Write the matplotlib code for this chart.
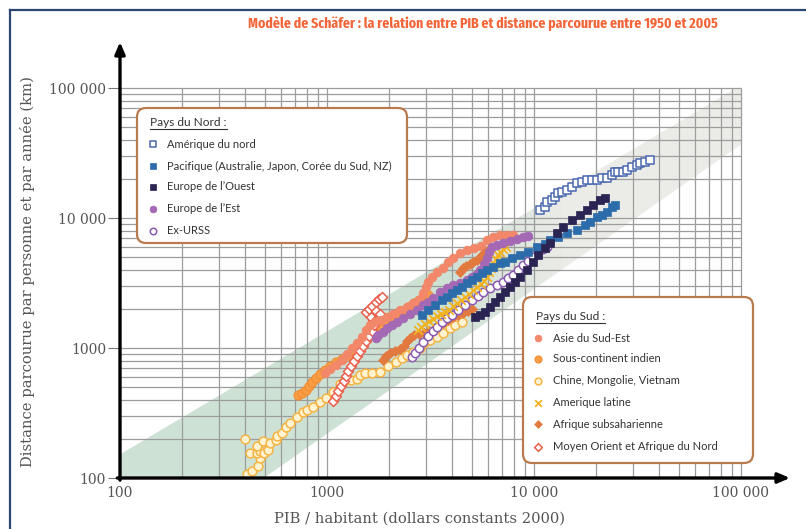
import os
import numpy as np
import matplotlib
matplotlib.use('Agg')
import matplotlib.pyplot as plt
from matplotlib import font_manager as fm
from matplotlib.patches import FancyBboxPatch, Polygon

# ============ données (PIB/hab, km/pers/an) ============
amn_x = [10690, 11300, 11560, 12220, 12630, 13050, 13650, 14430, 15270, 16130,
         17060, 18030, 19060, 20150, 21310, 22530, 23820, 24600, 25470, 26920,
         28120, 29730, 31470, 32520, 34360, 36310]
amn_y = [11530, 12160, 13280, 13750, 14510, 15570, 15850, 16410, 17300, 18580,
         18910, 19600, 19600, 19600, 20310, 20310, 21420, 22600, 22600, 22600,
         23400, 24670, 25560, 26490, 26980, 27930]

pac_x = [2877, 3076, 3327, 3597, 3802, 4020, 4250, 4490, 4747, 5016, 5303, 5606,
         5926, 6340, 6853, 7247, 7832, 8560, 9354, 10330, 11290, 11940, 13050,
         14430, 16130, 17630, 18660, 20150, 21310, 22530, 23820, 24600]
pac_y = [1794, 1960, 2142, 2339, 2467, 2648, 2793, 2946, 3162, 3333, 3516, 3776,
         3981, 4200, 4510, 4591, 4924, 5193, 5476, 5980, 6310, 6770, 7140, 7670,
         8090, 8840, 9320, 10180, 10550, 11130, 12160, 12600]

eou_x = [5188, 5486, 5800, 6127, 6480, 6853, 7247, 7660, 8090, 8560, 9250, 9890,
         10450, 11290, 11940, 12910, 13800, 15270, 16680, 18030, 19280, 20840, 22030]
eou_y = [1730, 1794, 1893, 2067, 2259, 2467, 2697, 2946, 3220, 3516, 3981, 4591,
         5193, 5870, 6420, 7670, 8530, 9660, 10550, 11530, 12600, 13750, 14260]

ees_x = [1726, 1763, 1865, 1950, 2062, 2179, 2329, 2518, 2722, 2911, 3076, 3252,
         3515, 3802, 4062, 4392, 4747, 5016, 5303, 5486, 5733, 5926, 6064, 6271,
         6625, 7087, 7660, 8280, 8850, 9354]
ees_y = [1194, 1259, 1327, 1425, 1503, 1585, 1702, 1828, 1960, 2142, 2259, 2427,
         2697, 2896, 3054, 3162, 3333, 3516, 3707, 3981, 4427, 4924, 5476, 5980,
         6200, 6420, 6658, 6890, 7140, 7278]

urss_x = [2576, 2663, 2783, 2911, 3076, 3252, 3398, 3597, 3802, 4020, 4296, 4645,
          5016, 5360, 5672, 6127, 6625, 7087, 7487, 7918, 8370, 8850, 9354, 9890,
          10450, 11050, 11560]
urss_y = [853, 916, 1000, 1112, 1236, 1350, 1452, 1585, 1702, 1794, 1960, 2142,
          2339, 2512, 2697, 2896, 3054, 3220, 3453, 3644, 3981, 4350, 4667, 5012,
          5476, 5775, 5980]

ase_x = [977, 1033, 1104, 1181, 1249, 1321, 1396, 1476, 1543, 1614, 1706, 1824,
         1950, 2085, 2253, 2434, 2602, 2783, 2911, 3006, 3076, 3215, 3398, 3632,
         3843, 4062, 4392, 4747, 5130, 5546, 5926, 6340, 6853, 7410, 7918]
ase_y = [642, 689, 740, 808, 899, 1000, 1092, 1215, 1375, 1503, 1585, 1642, 1730,
         1828, 1960, 2067, 2218, 2339, 2648, 2946, 3220, 3516, 3844, 4125, 4591,
         4924, 5383, 5675, 5870, 6090, 6770, 7140, 7400, 7400, 7400]

ind_x = [725, 757, 792, 819, 847, 885, 925, 977, 1033, 1104, 1181, 1262, 1349,
         1428, 1510, 1596, 1687, 1783, 1884, 2014, 2153, 2302, 2461, 2631, 2783,
         2942, 3076]
ind_y = [435, 451, 475, 510, 547, 587, 631, 677, 727, 780, 823, 884, 966, 1055,
         1153, 1259, 1375, 1503, 1614, 1730, 1828, 1928, 2067, 2218, 2339, 2467, 2557]

chn_x = [411, 435, 465, 475, 425, 459, 475, 496, 519, 459, 402, 491, 531, 568,
         573, 606, 634, 663, 716, 766, 800, 855, 925, 988, 1069, 1156, 1208, 1306,
         1396, 1443, 1527, 1650, 1803, 1971, 2155, 2302, 2434, 2602, 2813, 2942,
         3147, 3398, 3632, 3926, 4150, 4490]
chn_y = [107, 113, 124, 142, 156, 156, 161, 156, 164, 176, 200, 193, 186, 196,
         210, 222, 247, 265, 295, 322, 334, 352, 384, 412, 459, 529, 557, 567, 578,
         620, 642, 642, 654, 727, 780, 837, 884, 931, 1000, 1092, 1153, 1215, 1304,
         1425, 1503, 1585]

aml_x = [2754, 2846, 2974, 3110, 3252, 3398, 3555, 3715, 3881, 4062, 4250, 4436,
         4645, 4853, 5071, 5303, 5546, 5733, 5926, 6064, 6200, 6412, 6550, 6700,
         6853, 7087, 7330]
aml_y = [1375, 1452, 1531, 1614, 1672, 1763, 1828, 1893, 1960, 2104, 2218, 2339,
         2467, 2602, 2793, 2946, 3106, 3276, 3516, 3844, 4125, 4427, 4840, 5193,
         5476, 5775, 5980]

afs_x = [1865, 1929, 2014, 2131, 2253, 2356, 2434, 2518, 2631, 2783, 2942, 3110,
         3288, 3437, 3632, 3843, 4062, 4296, 4540, 4800, 5016,
         4392, 4540, 4690, 4906, 5071, 5303, 5486, 5672, 5926]
afs_y = [808, 868, 916, 948, 982, 1036, 1131, 1194, 1259, 1282, 1304, 1350, 1400,
         1476, 1556, 1642, 1730, 1794, 1860, 1928, 1995,
         3844, 4125, 4275, 4427, 4591, 4750, 5012, 5286, 5575]

moa_x = [1069, 1104, 1129, 1168, 1208, 1236, 1262, 1306, 1349, 1396, 1443, 1492,
         1543, 1596, 1650, 1687, 1668, 1614, 1543, 1596, 1650, 1726, 1783, 1845,
         1726, 1803]
moa_y = [391, 428, 467, 510, 557, 609, 665, 727, 794, 868, 948, 1036, 1131, 1236,
         1350, 1503, 1642, 1763, 1893, 1995, 2104, 2259, 2383, 2467, 1928, 1828]

nord_labels = ['Amérique du nord', 'Pacifique (Australie, Japon, Corée du Sud, NZ)',
               "Europe de l\u2019Ouest", "Europe de l\u2019Est", 'Ex-URSS']
sud_labels = ['Asie du Sud-Est', 'Sous-continent indien', 'Chine, Mongolie, Vietnam',
              'Amerique latine', 'Afrique subsaharienne',
              'Moyen Orient et Afrique du Nord']

y_ticks = [100, 1000, 10000, 100000]
y_ticklabels = ['100', '1000', '10 000', '100 000']
x_ticks = [100, 1000, 10000, 100000]
x_ticklabels = ['100', '1000', '10 000', '100 000']

TITLE = 'Modèle de Schäfer : la relation entre PIB et distance parcourue entre 1950 et 2005'

# ============ styles ============
W, H = 806, 529
STYLES = {
    'amn':  dict(marker='s', s=34, facecolor='white', edgecolor='#4a68b0', linewidths=1.1),
    'pac':  dict(marker='s', s=34, facecolor='#2d6cab', edgecolor='#2d6cab', linewidths=0.5),
    'eou':  dict(marker='s', s=34, facecolor='#2a2452', edgecolor='#2a2452', linewidths=0.5),
    'ees':  dict(marker='o', s=40, facecolor='#a468b4', edgecolor='#a468b4', linewidths=0.5),
    'urss': dict(marker='o', s=36, facecolor='white', edgecolor='#8a5ab0', linewidths=1.1),
    'ase':  dict(marker='o', s=40, facecolor='#f2876a', edgecolor='#f2876a', linewidths=0.5),
    'ind':  dict(marker='o', s=44, facecolor='#f99d45', edgecolor='#f08a30', linewidths=0.7),
    'chn':  dict(marker='o', s=40, facecolor='#fff3d2', edgecolor='#f6b444', linewidths=1.1),
    'aml':  dict(marker='x', s=38, color='#f2b21e', linewidths=1.3),
    'afs':  dict(marker='D', s=26, facecolor='#e27a40', edgecolor='#e27a40', linewidths=0.5),
    'moa':  dict(marker='D', s=26, facecolor='white', edgecolor='#ea5f4c', linewidths=1.1),
}


def condensed_bold():
    """cherche une police grasse étroite installée"""
    best, rank = None, 99
    order = {'ultra-condensed': 0, 'extra-condensed': 1, 'condensed': 2}
    for f in fm.fontManager.ttflist:
        w = f.weight if isinstance(f.weight, int) else fm.weight_dict.get(f.weight, 400)
        if w < 600 or w > 800 or f.style != 'normal':
            continue
        low = (f.name + os.path.basename(f.fname)).lower()
        r = order.get(f.stretch, 99)
        if 'extracondensed' in low or 'extra condensed' in low:
            r = min(r, 1)
        elif 'semicondensed' in low or 'semi condensed' in low:
            r = min(r, 3)
        elif 'condensed' in low or 'narrow' in low:
            r = min(r, 2)
        if r < rank:
            best, rank = f.fname, r
    return best


fig = plt.figure(figsize=(W / 100, H / 100), dpi=100)
fig.patch.set_facecolor('white')

# axes: x 100 at px 120, decade 207 px ; y 100 at py 478, decade 130 px
ax = fig.add_axes([120 / W, 1 - 478 / H, 670 / W, 436 / H])
ax.set_xscale('log')
ax.set_yscale('log')
ax.set_xlim(100, 10 ** (2 + 670 / 207))
ax.set_ylim(100, 10 ** (2 + 436 / 130))
for sp in ax.spines.values():
    sp.set_visible(False)

# bande diagonale (vert -> gris)
lo_x0, lo_slope = 2.691, 1.113     # bord inférieur (log)
up_y0, up_slope = 2.177, 0.947     # bord supérieur (log)
green = np.array([0.808, 0.882, 0.836])
grey = np.array([0.922, 0.922, 0.906])


def lo(l):
    return min(5, max(2, 2 + (l - lo_x0) * lo_slope))


def up(l):
    return min(5, up_y0 + (l - 2) * up_slope)


edges = np.linspace(2, 5, 91)
for a, b in zip(edges[:-1], edges[1:]):
    t = np.clip(((a + b) / 2 - 3.6) / 0.55, 0, 1)
    c = green * (1 - t) + grey * t
    pts = [(10 ** a, 10 ** lo(a)), (10 ** b, 10 ** lo(b)),
           (10 ** b, 10 ** up(b)), (10 ** a, 10 ** up(a))]
    ax.add_patch(Polygon(pts, closed=True, facecolor=c, edgecolor=c,
                         lw=0.6, zorder=0.5))

# grille logarithmique
vals = [m * 10 ** d for d in range(2, 5) for m in range(1, 10)] + [100000]
ax.vlines(vals, 100, 100000, color='#9c9c9c', lw=0.9, zorder=1)
ax.hlines(vals, 100, 100000, color='#9c9c9c', lw=0.9, zorder=1)

# séries
series = [('chn', chn_x, chn_y), ('ind', ind_x, ind_y), ('moa', moa_x, moa_y),
          ('ase', ase_x, ase_y), ('afs', afs_x, afs_y), ('urss', urss_x, urss_y),
          ('aml', aml_x, aml_y), ('ees', ees_x, ees_y), ('pac', pac_x, pac_y),
          ('eou', eou_x, eou_y), ('amn', amn_x, amn_y)]
for key, xs, ys in series:
    ax.scatter(xs, ys, zorder=3, clip_on=False, **STYLES[key])

# axes fléchés
arrow = dict(arrowstyle='-|>,head_length=0.7,head_width=0.3', lw=2.4, color='black',
             shrinkA=0, shrinkB=0)
ax.annotate('', xy=(1, 0), xytext=(-0.004, 0), xycoords='axes fraction', arrowprops=arrow)
ax.annotate('', xy=(0, 1), xytext=(0, -0.005), xycoords='axes fraction', arrowprops=arrow)

ax.set_yticks(y_ticks)
ax.set_yticklabels(y_ticklabels)
ax.set_xticks(x_ticks)
ax.set_xticklabels(x_ticklabels)
ax.minorticks_off()
ax.tick_params(axis='y', length=9, width=0.8, color='#777', pad=1,
               labelsize=10, labelcolor='#555')
ax.tick_params(axis='x', length=0, pad=6, labelsize=10, labelcolor='#555')
for lab in ax.get_xticklabels() + ax.get_yticklabels():
    lab.set_family('DejaVu Serif')

ax.set_xlabel('PIB / habitant (dollars constants 2000)', family='DejaVu Serif',
              fontsize=10.6, color='#555', va='center')
ax.xaxis.set_label_coords((420 - 120) / 670, (478 - 519) / 436)
ax.set_ylabel('Distance parcourue par personne et par année (km)', family='DejaVu Serif',
              fontsize=10.6, color='#555', va='center')
ax.yaxis.set_label_coords((28 - 120) / 670, (478 - 272) / 436)

# ============ calque en pixels (titre, légendes, cadre) ============
ov = fig.add_axes([0, 0, 1, 1], zorder=10)
ov.set_xlim(0, W)
ov.set_ylim(H, 0)
ov.axis('off')
ov.patch.set_alpha(0)

ov.plot([10, W], [10, 10], color='#2d4670', lw=1.6)
ov.plot([10, 10], [10, H], color='#2d4670', lw=1.6)

tf = condensed_bold()
if tf:
    tprop = fm.FontProperties(fname=tf, size=13)
else:
    tprop = fm.FontProperties(family='DejaVu Sans', weight='bold', size=13)
title = ov.text(483, 23, TITLE, ha='center', va='center', color='#f2663a',
                fontproperties=tprop)
fig.canvas.draw()
tw = title.get_window_extent().width
if tw > 470:
    title.set_fontsize(13 * 470 / tw)

LEG_FONT = ['Lato', 'DejaVu Sans']
EDGE = '#b97a4e'


def legend_box(x0, y0, x1, y1, title, keys, labels, ys, mx, tx):
    ov.add_patch(FancyBboxPatch((x0, y0), x1 - x0, y1 - y0,
                                boxstyle='round,pad=0,rounding_size=9',
                                facecolor='white', edgecolor=EDGE, lw=1.6))
    t = ov.text(tx - 17, ys[0] - 21, title, ha='left', va='center',
                fontsize=8.6, color='#333', family=LEG_FONT)
    for key, lab, yy in zip(keys, labels, ys):
        st = dict(STYLES[key])
        st['s'] = st['s'] * 0.6
        ov.scatter([mx], [yy], **st)
        ov.text(tx, yy, lab, ha='left', va='center', fontsize=8.0,
                color='#333', family=LEG_FONT)
    return t


t1 = legend_box(137, 108, 407, 243, 'Pays du Nord :', ['amn', 'pac', 'eou', 'ees', 'urss'],
                nord_labels, [144, 166, 187, 209, 231], 153, 167)
t2 = legend_box(523, 297, 753, 463, 'Pays du Sud :', ['ase', 'ind', 'chn', 'aml', 'afs', 'moa'],
                sud_labels, [338, 359, 381, 403, 424, 447], 538, 553)

# soulignement des titres de légende
fig.canvas.draw()
inv = ov.transData.inverted()
for t in (t1, t2):
    bb = t.get_window_extent()
    (ux0, uy0), (ux1, uy1) = inv.transform([[bb.x0, bb.y0], [bb.x1, bb.y1]])
    ov.plot([ux0, ux1], [uy0 + 0.5, uy0 + 0.5], color='#333', lw=0.8)

fig.savefig('out.png', dpi=100, facecolor='white')
